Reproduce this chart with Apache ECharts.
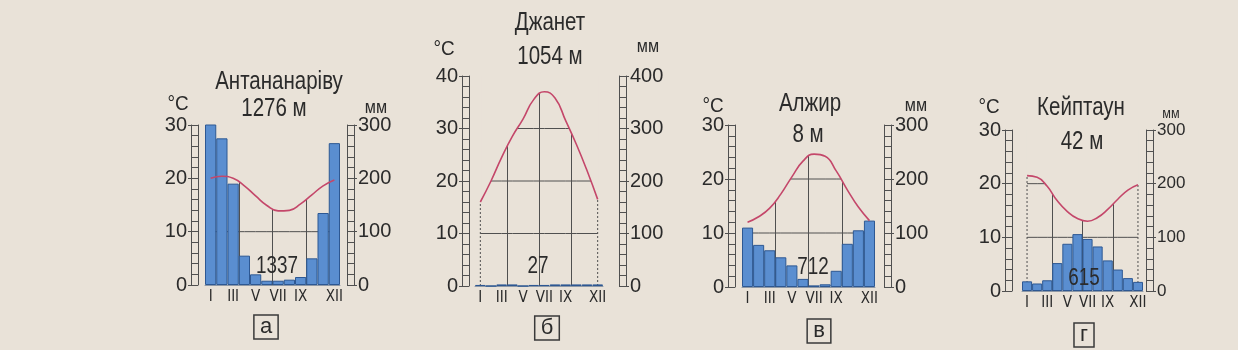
<!DOCTYPE html>
<html>
<head>
<meta charset="utf-8">
<script src="https://cdn.jsdelivr.net/npm/echarts@6/dist/echarts.min.js"></script>
<style>
html,body{margin:0;padding:0;background:#e9e2d8;}
#chart{width:1238px;height:350px;}
</style>
</head>
<body>
<div id="chart"></div>
<script>
// ---- data ----
const months = ['I','II','III','IV','V','VI','VII','VIII','IX','X','XI','XII'];
const shownMonths = ['I','III','V','VII','IX','XII'];

const stationNames = ['Антананаріву','Джанет','Алжир','Кейптаун'];
const stationHeights = ['1276 м','1054 м','8 м','42 м'];
const annualTotals = ['1337','27','712','615'];
const panelLetters = ['а','б','в','г'];

const tempAntananarivo = [20, 20.4, 20, 18.6, 16.7, 14.9, 13.9, 14.0, 15.2, 16.9, 18.6, 19.7];
const precAntananarivo = [305, 275, 190, 55, 20, 8, 8, 10, 15, 50, 135, 266];
const tempDjanet = [16, 20, 24.5, 28.5, 31.8, 35.5, 37, 35.8, 31.5, 27, 22, 16.5];
const precDjanet = [2, 0, 3, 3, 0, 2, 2, 3, 3, 3, 3, 3];
const tempAlgiers = [12, 13, 14.6, 17.2, 20.4, 23.3, 24.6, 24.2, 21.5, 18, 14.8, 12.3];
const precAlgiers = [110, 78, 68, 55, 40, 15, 3, 5, 30, 80, 105, 123];
const tempCapeTown = [21.5, 21.2, 19.5, 16.8, 14.8, 13.5, 13, 13.7, 15.2, 17.1, 18.8, 19.8];
const precCapeTown = [18, 14, 20, 52, 88, 106, 97, 83, 57, 40, 24, 17];

const tempMax = [30, 40, 30, 30];
const precMax = [300, 400, 300, 300];
const tempGuides = [[10], [10, 20, 30], [10, 20], [10, 20]];
const edgeDotted = [false, true, false, true];

const temps = [tempAntananarivo, tempDjanet, tempAlgiers, tempCapeTown];
const precs = [precAntananarivo, precDjanet, precAlgiers, precCapeTown];

// ---- layout / style ----
const BG = '#e9e2d8';
const INK = '#2b2b2b';
const GRIDC = '#505050';
const FONT = "'Liberation Sans','Arial',sans-serif";
const FONT_C = "'DejaVu Sans Condensed','Liberation Sans',sans-serif";
const layouts = [
  {left:205, top:125, width:135, height:160, lg:7, rg:7, rFont:20,
   title:[279,82], height2:[274,109], total:[277,267], letter:[266,327], degC:[178,104], mm:[376,108], mmSize:18},
  {left:475, top:76, width:128, height:210, lg:6, rg:16, rFont:20,
   title:[550,23], height2:[550,57], total:[538,267], letter:[547,328], degC:[444,49], mm:[648,47], mmSize:18},
  {left:742, top:125, width:133, height:162, lg:7, rg:9, rFont:20,
   title:[810,104], height2:[808,135], total:[813,268], letter:[819,331], degC:[713,106], mm:[916,106], mmSize:18},
  {left:1022, top:130, width:121, height:161, lg:10, rg:3, rFont:17,
   title:[1081,108], height2:[1082,142], total:[1084,279], letter:[1084,335], degC:[989,107], mm:[1171,114], mmSize:14}
];

const grids = [], xAxes = [], yAxes = [], series = [], graphics = [];
const axisLineStyle = {color: GRIDC, width: 1};

layouts.forEach((l, k) => {
  grids.push({left:l.left, top:l.top, width:l.width, height:l.height});
  const xIdx = xAxes.length;
  xAxes.push({
    gridIndex:k, type:'category', data:months, boundaryGap:true,
    axisLine:{show:true, onZero:false, lineStyle:{color:'#8d98a6', width:1}},
    axisTick:{show:false},
    axisLabel:{interval:(i) => shownMonths.includes(months[i]), margin:5, color:INK, fontSize:15, fontFamily:FONT_C},
    splitLine:{show:false}
  });
  // hidden month-position axis used only for the vertical guide lines (every 3 months)
  xAxes.push({
    gridIndex:k, type:'value', min:0, max:12, interval:3, position:'top',
    axisLine:{show:false, onZero:false}, axisTick:{show:false}, axisLabel:{show:false},
    splitLine:{show:true, showMinLine:false, showMaxLine:false, lineStyle:{color:GRIDC, width:1}}
  });
  const tIdx = yAxes.length;
  yAxes.push({
    gridIndex:k, type:'value', min:0, max:tempMax[k], interval:10, position:'left', offset:l.lg,
    axisLine:{show:true, onZero:false, lineStyle:axisLineStyle},
    axisTick:{show:true, length:10, lineStyle:axisLineStyle},
    minorTick:{show:true, splitNumber:5, length:7, lineStyle:axisLineStyle},
    axisLabel:{margin:11, color:INK, fontSize:20, fontFamily:FONT},
    splitLine:{show:false}
  });
  yAxes.push({
    gridIndex:k, type:'value', min:0, max:tempMax[k], position:'left', offset:l.lg + 7,
    axisLine:{show:true, onZero:false, lineStyle:axisLineStyle}, axisTick:{show:false}, axisLabel:{show:false}, splitLine:{show:false}
  });
  const pIdx = yAxes.length;
  yAxes.push({
    gridIndex:k, type:'value', min:0, max:precMax[k], interval:100, position:'right', offset:l.rg,
    axisLine:{show:true, onZero:false, lineStyle:axisLineStyle},
    axisTick:{show:true, length:10, lineStyle:axisLineStyle},
    minorTick:{show:true, splitNumber:5, length:7, lineStyle:axisLineStyle},
    axisLabel:{margin:11, color:INK, fontSize:l.rFont, fontFamily:FONT},
    splitLine:{show:false}
  });
  yAxes.push({
    gridIndex:k, type:'value', min:0, max:precMax[k], position:'right', offset:l.rg + 7,
    axisLine:{show:true, onZero:false, lineStyle:axisLineStyle}, axisTick:{show:false}, axisLabel:{show:false}, splitLine:{show:false}
  });

  const t = temps[k];
  // horizontal guide lines under the temperature curve
  tempGuides[k].forEach(level => {
    series.push({
      type:'line', xAxisIndex:xIdx, yAxisIndex:tIdx, data:months.map(() => level),
      symbol:'none', silent:true, z:1, lineStyle:{color:GRIDC, width:1}
    });
  });
  if (edgeDotted[k]) {
    [[months[0], t[0]], [months[11], t[11]]].forEach(([m, v]) => {
      series.push({
        type:'line', xAxisIndex:xIdx, yAxisIndex:tIdx, data:[[m, 0], [m, v]],
        symbol:'none', silent:true, z:1, lineStyle:{color:GRIDC, width:1, type:[2, 2]}
      });
    });
  }
  // precipitation bars
  series.push({
    type:'bar', xAxisIndex:xIdx, yAxisIndex:pIdx, data:precs[k], barCategoryGap:'0%',
    itemStyle:{color:'#5a8ed0', borderColor:'#2d5893', borderWidth:1}, z:3, silent:true
  });
  // temperature curve
  series.push({
    type:'line', xAxisIndex:xIdx, yAxisIndex:tIdx, data:t, stack:'t' + k, smooth:0.5,
    symbol:'none', silent:true, z:5, lineStyle:{color:'#c4476a', width:1.6}
  });
  // paper-coloured mask above the curve (hides guide lines above it)
  series.push({
    type:'line', xAxisIndex:xIdx, yAxisIndex:tIdx, data:t.map(v => tempMax[k] - v), stack:'t' + k, smooth:0.5,
    symbol:'none', silent:true, z:2, lineStyle:{width:0, opacity:0}, areaStyle:{color:BG, opacity:1}
  });
  // tidy the mask's two end edges
  [[months[0], t[0]], [months[11], t[11]]].forEach(([m, v]) => {
    series.push({
      type:'line', xAxisIndex:xIdx, yAxisIndex:tIdx, data:[[m, v], [m, tempMax[k]]],
      symbol:'none', silent:true, z:2, lineStyle:{color:BG, width:2}
    });
  });

  const txt = (pos, text, size, sx, extra) => graphics.push({
    type:'text', x:pos[0], y:pos[1], z:10, scaleX:sx,
    style:Object.assign({text:text, fill:INK, font:size + 'px ' + FONT,
      align:'center', verticalAlign:'middle', textAlign:'center', textVerticalAlign:'middle'}, extra || {})
  });
  txt(l.title, stationNames[k], 25, 0.82);
  txt(l.height2, stationHeights[k], 25, 0.82);
  txt(l.total, annualTotals[k], 23, 0.82);
  txt(l.degC, '°C', 21, 0.9);
  txt(l.mm, 'мм', l.mmSize, 0.9);
  txt(l.letter, panelLetters[k], 22, 1, {borderColor:'#3a3a3a', borderWidth:1.5, padding:[0, 6, 2, 6]});
});

const chart = echarts.init(document.getElementById('chart'), null, {renderer:'canvas'});
chart.setOption({
  backgroundColor: BG,
  animation: false,
  grid: grids,
  xAxis: xAxes,
  yAxis: yAxes,
  series: series,
  graphic: graphics
});
</script>
</body>
</html>
